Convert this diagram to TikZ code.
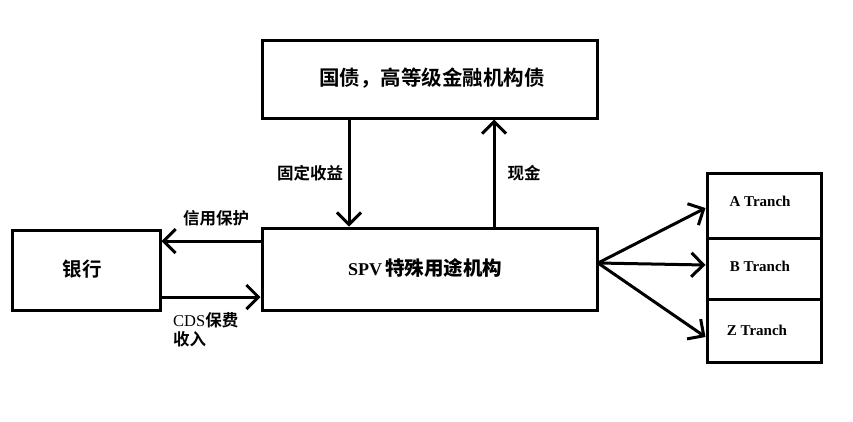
\documentclass[tikz,border=0pt]{standalone}
\usepackage{fontspec}
\setmainfont{Liberation Serif}
\newfontfamily\cjk{Noto Sans CJK SC Bold}
\usetikzlibrary{arrows.meta}
\begin{document}
\begin{tikzpicture}[x=1pt,y=-1pt,
  box/.style={draw,line width=3pt,inner sep=0pt},
  flow/.style={line width=3pt,-{Straight Barb[length=12pt,width=24pt,line width=3pt]}},
  lbl/.style={font=\cjk\fontsize{16.5}{19}\selectfont,inner sep=0pt}]
\useasboundingbox[fill=white] (0,0) rectangle (853,421);
\node[box,minimum width=335pt,minimum height=78pt] (top) at (429.5,79) {};
\node[font=\cjk\fontsize{20.5}{24}\selectfont] at (432,78) {国债，高等级金融机构债};
\node[box,minimum width=335pt,minimum height=82pt] (spv) at (429.5,269) {};
\node at (425,268) {\fontsize{18}{21}\selectfont\bfseries SPV\,{\cjk\fontsize{19.5}{21}\selectfont 特殊用途机构}};
\node[box,minimum width=148pt,minimum height=80pt] (bank) at (86,270) {};
\node[font=\cjk\fontsize{19.5}{22}\selectfont] at (82,269) {银行};
\node[box,minimum width=114pt,minimum height=65pt] (ta) at (764,205.5) {};
\node[box,minimum width=114pt,minimum height=61pt] (tb) at (764,268.5) {};
\node[box,minimum width=114pt,minimum height=63pt] (tz) at (764,330.5) {};
\node[font=\fontsize{15}{18}\selectfont\bfseries] at (760,201) {A Tranch};
\node[font=\fontsize{15}{18}\selectfont\bfseries] at (760,266) {B Tranch};
\node[font=\fontsize{15}{18}\selectfont\bfseries] at (757,330) {Z Tranch};
\coordinate (s) at (598,263);
\draw[flow] (top.south -| 349,0) -- (spv.north -| 349,0);
\draw[flow] (spv.north -| 494,0) -- (top.south -| 494,0);
\draw[flow] (spv.west |- 0,241) -- (bank.east |- 0,241);
\draw[flow] (bank.east |- 0,297) -- (spv.west |- 0,297);
\draw[flow] (s) -- (ta.west |- 0,208);
\draw[flow] (s) -- (tb.west |- 0,265);
\draw[flow] (s) -- (tz.west |- 0,337);
\node[lbl] at (310,173) {固定收益};
\node[lbl] at (524,173) {现金};
\node[lbl] at (216,218) {信用保护};
\node[lbl,align=left,anchor=north west] at (173,312) {{\rmfamily CDS}保费\\收入};
\end{tikzpicture}
\end{document}
